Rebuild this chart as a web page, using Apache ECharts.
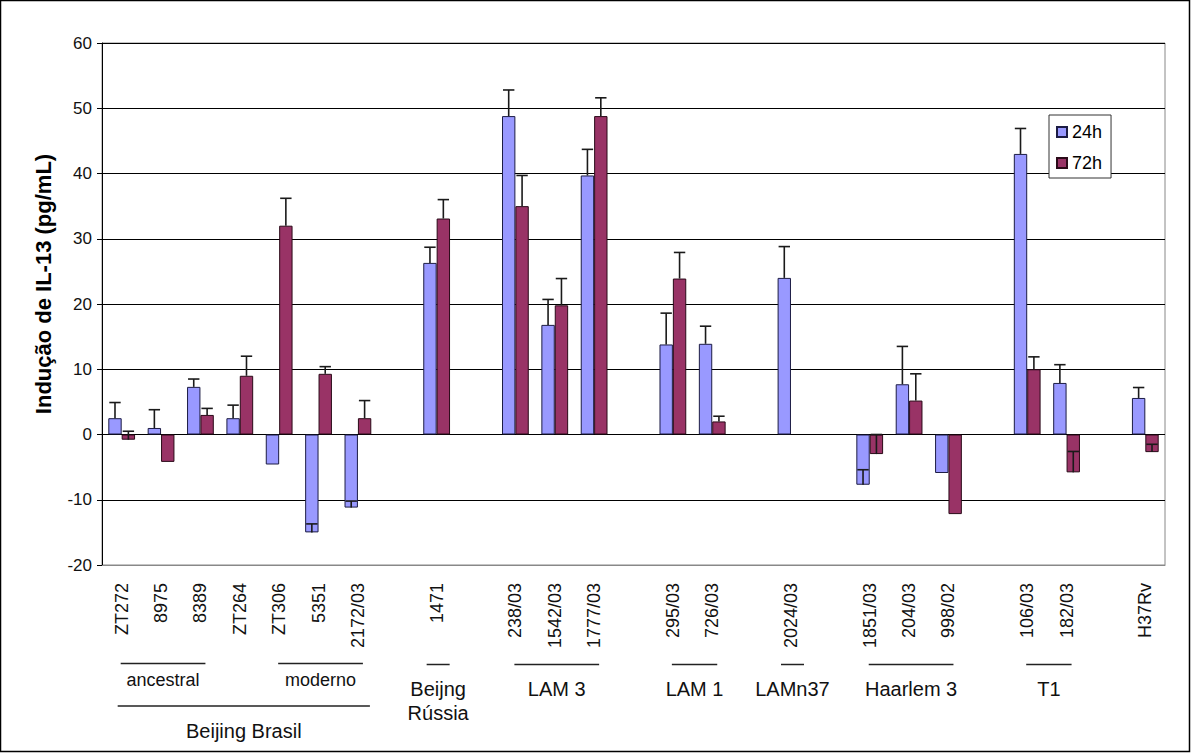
<!DOCTYPE html>
<html>
<head>
<meta charset="utf-8">
<script src="https://cdn.jsdelivr.net/npm/echarts@6/dist/echarts.min.js"></script>
<style>
  html, body { margin: 0; padding: 0; background: #fff; }
  #chart { width: 1191px; height: 753px; }
</style>
</head>
<body>
<div id="chart"></div>
<script>
// ---- data ----
const categories = ['ZT272', '8975', '8389', 'ZT264', 'ZT306', '5351', '2172/03', '',
  '1471', '', '238/03', '1542/03', '1777/03', '', '295/03', '726/03', '',
  '2024/03', '', '1851/03', '204/03', '998/02', '', '106/03', '182/03', '', 'H37Rv'];

const seriesNames = ['24h', '72h'];

const values24 = [2.5, 1.0, 7.3, 2.5, -4.6, -15.0, -11.2, null,
  26.3, null, 48.8, 16.8, 39.7, null, 13.8, 13.9, null,
  24.0, null, -7.7, 7.7, -5.9, null, 43.0, 7.9, null, 5.6];
const errors24 = [2.4, 2.8, 1.2, 2.0, 0, 1.3, 1.0, null,
  2.4, null, 4.0, 3.9, 4.0, null, 4.8, 2.7, null,
  4.8, null, 2.3, 5.8, 0, null, 3.9, 2.8, null, 1.6];

const values72 = [-0.8, -4.2, 3.0, 9.0, 32.0, 9.3, 2.5, null,
  33.1, null, 35.0, 19.8, 48.8, null, 23.9, 2.0, null,
  null, null, -3.0, 5.2, -12.2, null, 10.0, -5.8, null, -2.7];
const errors72 = [1.3, 0, 1.0, 3.0, 4.2, 1.1, 2.7, null,
  2.9, null, 4.7, 4.1, 2.8, null, 4.0, 0.8, null,
  null, null, 3.0, 4.1, 0, null, 1.9, 3.2, null, 1.2];

const yMin = -20, yMax = 60, yStep = 10;
const yTitle = 'Indução de IL-13 (pg/mL)';

// groups of strains shown under the axis
const groupNames = ['ancestral', 'moderno', 'Beijing Brasil', 'Beijng\nRússia', 'LAM 3', 'LAM 1', 'LAMn37', 'Haarlem 3', 'T1'];
const groupFirst = [0, 4, 0, 8, 10, 14, 17, 19, 23];
const groupLast  = [2, 6, 6, 8, 12, 15, 17, 21, 24];
const groupKind  = ['sub', 'sub', 'parent', 'lineage', 'lineage', 'lineage', 'lineage', 'lineage', 'lineage'];

// ---- chart ----
const FONT = '"Liberation Sans", Arial, sans-serif';
const COLORS = ['#9999FF', '#993366'];
const BAR_FRACTION = 0.68;

const chart = echarts.init(document.getElementById('chart'), null, { renderer: 'svg' });

function errRender(sign) {
  return function (params, api) {
    const xi = api.value(0), v = api.value(1), e = api.value(2);
    const base = api.coord([xi, v]);
    const top = api.coord([xi, v + e]);
    const catW = api.size([1, 0])[0];
    const bw = catW * BAR_FRACTION / 2;
    const cx = base[0] + sign * bw / 2;
    const half = bw / 2 - 1;
    const st = { stroke: '#1a1a1a', lineWidth: 1.6 };
    return {
      type: 'group',
      children: [
        { type: 'line', shape: { x1: cx, y1: base[1], x2: cx, y2: top[1] }, style: st },
        { type: 'line', shape: { x1: cx - half, y1: top[1], x2: cx + half, y2: top[1] }, style: st }
      ]
    };
  };
}
function errData(vals, errs) {
  return vals.map((v, i) => [i, v, errs[i]]).filter(d => d[1] != null && d[2] != null && d[2] > 0);
}

const splitColors = [];
for (let t = yMin; t <= yMax; t += yStep) splitColors.push(t === yMin ? '#888888' : '#000000');

chart.setOption({
  animation: false,
  backgroundColor: '#ffffff',
  textStyle: { fontFamily: FONT },
  grid: { left: 102, right: 26, top: 43, bottom: 188, show: true, borderColor: '#888888', borderWidth: 1, backgroundColor: '#ffffff' },
  legend: {
    data: seriesNames,
    orient: 'vertical',
    left: 1049, top: 115,
    backgroundColor: '#ffffff',
    borderColor: '#333333', borderWidth: 1, borderRadius: 0,
    padding: [8, 9, 6, 7],
    itemGap: 13, itemWidth: 10, itemHeight: 10,
    icon: 'rect',
    textStyle: { fontSize: 18, color: '#000', fontFamily: FONT }
  },
  xAxis: {
    type: 'category',
    data: categories,
    axisLine: { onZero: false, lineStyle: { color: '#888888', width: 1 } },
    axisTick: { show: false },
    axisLabel: { interval: 0, rotate: 90, margin: 18, fontSize: 18, color: '#111', fontFamily: FONT },
    splitLine: { show: false }
  },
  yAxis: {
    type: 'value',
    min: yMin, max: yMax, interval: yStep,
    axisLine: { show: true, lineStyle: { color: '#000', width: 1 } },
    axisTick: { show: true, length: 5, lineStyle: { color: '#000' } },
    axisLabel: { fontSize: 17, color: '#111', margin: 10, fontFamily: FONT },
    splitLine: { show: true, lineStyle: { color: splitColors, width: 1 } },
    name: yTitle,
    nameLocation: 'middle',
    nameGap: 48,
    nameTextStyle: { fontSize: 22, fontWeight: 'bold', color: '#000', fontFamily: FONT, padding: [0, 0, 0, 40] }
  },
  series: [
    {
      name: seriesNames[0], type: 'bar', data: values24,
      barGap: '0%', barCategoryGap: ((1 - BAR_FRACTION) * 100) + '%',
      itemStyle: { color: COLORS[0], borderColor: '#1c1c44', borderWidth: 1 },
      z: 2
    },
    {
      name: seriesNames[1], type: 'bar', data: values72,
      barGap: '0%', barCategoryGap: ((1 - BAR_FRACTION) * 100) + '%',
      itemStyle: { color: COLORS[1], borderColor: '#2a0a18', borderWidth: 1 },
      z: 2
    },
    { name: '24h err', type: 'custom', renderItem: errRender(-1), data: errData(values24, errors24), z: 5, encode: { x: 0, y: [1, 2] } },
    { name: '72h err', type: 'custom', renderItem: errRender(1), data: errData(values72, errors72), z: 5, encode: { x: 0, y: [1, 2] } }
  ]
});

// ---- group labels below the axis ----
const graphics = [];
graphics.push({ type: 'rect', shape: { x: 0.5, y: 0.5, width: 1189, height: 751 }, style: { fill: 'none', stroke: '#000', lineWidth: 1.5 }, silent: true });
for (let g = 0; g < groupNames.length; g++) {
  const x1c = chart.convertToPixel({ xAxisIndex: 0 }, groupFirst[g]);
  const x2c = chart.convertToPixel({ xAxisIndex: 0 }, groupLast[g]);
  const kind = groupKind[g];
  let lx1, lx2, ly, ty, fs;
  if (groupFirst[g] === groupLast[g]) { lx1 = x1c - 10; lx2 = x1c + 13; }
  else if (kind === 'parent') { lx1 = x1c - 4; lx2 = x2c + 12; }
  else { lx1 = x1c - 1; lx2 = x2c + 5; }
  if (kind === 'parent') { ly = 706; ty = 719; fs = 20; }
  else if (kind === 'sub') { ly = 663.5; ty = 668; fs = 18; }
  else { ly = 664.5; ty = 677; fs = 20; }
  graphics.push({ type: 'line', shape: { x1: lx1, y1: ly, x2: lx2, y2: ly }, style: { stroke: '#222', lineWidth: 1.5 }, silent: true });
  graphics.push({
    type: 'text', x: (lx1 + lx2) / 2, y: ty, silent: true,
    style: { text: groupNames[g], fontSize: fs, fontFamily: FONT, fill: '#111', align: 'center', verticalAlign: 'top', lineHeight: 24 }
  });
}
chart.setOption({ graphic: graphics });
</script>
</body>
</html>
